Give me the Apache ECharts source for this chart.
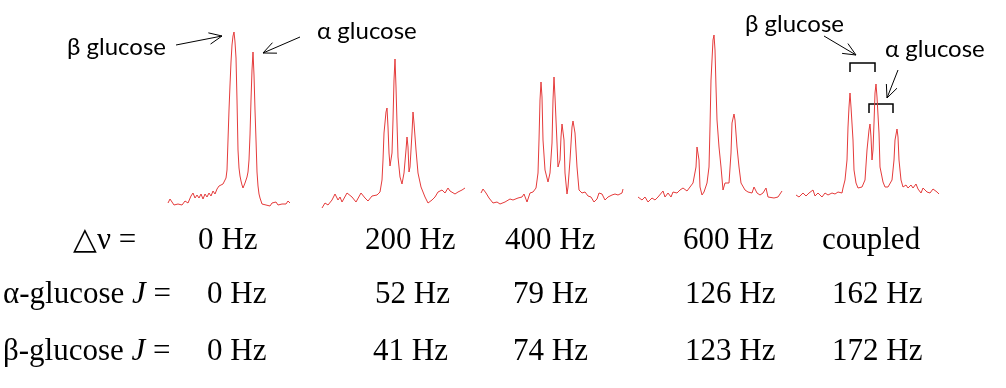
<!DOCTYPE html>
<html>
<head>
<meta charset="utf-8">
<script src="https://cdn.jsdelivr.net/npm/echarts@6/dist/echarts.min.js"></script>
<style>
  html, body { margin: 0; padding: 0; background: #fff; }
  #chart { width: 1006px; height: 388px; }
</style>
</head>
<body>
<div id="chart"></div>
<script>
// spectra, each point is [shift offset, intensity]
const spec0Hz = [
  [0, 9], [2, 13], [4, 11], [6, 7], [8, 9], [10, 8], [12, 10], [14, 7], [17, 11], [20, 9],
  [23, 16], [25, 19], [27, 14], [29, 17], [31, 14], [33, 18], [35, 13], [37, 18], [39, 15], [41, 19],
  [43, 16], [45, 21], [47, 18], [49, 23], [51, 26], [53, 24], [55, 28], [57, 30], [58, 34], [59, 42],
  [60, 72], [61, 102], [62, 127], [63, 150], [64, 167], [65, 176], [66, 180], [67, 170], [68, 154], [69, 112],
  [70, 62], [71, 44], [72, 36], [73, 31], [74, 27], [75, 24], [76, 26], [77, 29], [78, 32], [79, 35],
  [80, 40], [81, 52], [82, 77], [83, 112], [84, 142], [85, 160], [86, 137], [87, 102], [88, 72], [89, 40],
  [90, 26], [91, 18], [92, 14], [94, 8], [96, 10], [98, 7], [100, 9], [102, 6], [104, 9], [106, 7],
  [108, 10], [110, 7], [112, 9], [114, 8], [116, 10], [118, 8], [120, 11], [122, 9]
];
const spec200Hz = [
  [0, 4], [3, 9], [6, 7], [10, 12], [13, 18], [16, 12], [18, 15], [20, 10], [25, 19], [30, 15],
  [34, 10], [39, 19], [43, 14], [46, 11], [50, 16], [55, 17], [58, 20], [60, 32], [61, 52], [62, 79],
  [64, 100], [65, 104], [66, 85], [67, 59], [68, 46], [70, 59], [71, 92], [72, 132], [73, 153], [74, 125],
  [75, 89], [76, 55], [78, 35], [80, 28], [82, 39], [84, 62], [85, 75], [86, 65], [87, 40], [88, 45],
  [90, 79], [91, 100], [92, 89], [94, 62], [96, 39], [99, 25], [103, 15], [106, 9], [110, 12], [113, 15],
  [116, 20], [118, 18], [120, 22], [123, 19], [126, 24], [128, 21], [130, 23], [133, 18], [136, 20], [140, 22],
  [143, 24]
];
const spec400Hz = [
  [0, 19], [2, 23], [5, 19], [8, 14], [12, 9], [16, 10], [19, 8], [24, 10], [29, 13], [32, 12],
  [37, 14], [41, 15], [43, 18], [46, 10], [49, 19], [52, 20], [55, 24], [57, 39], [58, 72], [59, 112],
  [60, 130], [61, 115], [62, 72], [64, 42], [67, 30], [69, 39], [71, 69], [72, 112], [73, 135], [74, 115],
  [76, 69], [77, 45], [79, 52], [80, 75], [81, 88], [83, 72], [84, 39], [86, 18], [87, 25], [89, 52],
  [91, 85], [92, 91], [94, 79], [96, 45], [98, 22], [101, 19], [104, 20], [107, 16], [110, 15], [113, 10],
  [116, 13], [118, 19], [121, 18], [124, 12], [127, 15], [131, 17], [134, 18], [137, 17], [141, 19], [142, 23]
];
const spec600Hz = [
  [0, 15], [4, 12], [7, 15], [10, 10], [14, 14], [17, 12], [20, 15], [25, 21], [27, 15], [30, 19],
  [33, 15], [35, 20], [39, 19], [42, 22], [45, 24], [49, 21], [52, 25], [55, 29], [58, 45], [59, 65],
  [60, 67], [61, 52], [62, 25], [64, 17], [66, 20], [69, 29], [71, 45], [72, 85], [73, 132], [75, 172],
  [76, 177], [77, 162], [78, 125], [79, 92], [81, 65], [83, 45], [85, 22], [87, 29], [89, 30], [91, 29],
  [93, 59], [94, 89], [96, 98], [97, 92], [99, 65], [101, 45], [103, 29], [107, 22], [110, 20], [114, 19],
  [116, 25], [119, 19], [122, 17], [125, 19], [128, 24], [130, 15], [132, 17], [136, 14], [140, 15], [144, 21]
];
const specCoupled = [
  [0, 17], [3, 15], [7, 19], [10, 16], [13, 19], [17, 22], [19, 16], [22, 19], [26, 15], [29, 19],
  [32, 17], [36, 19], [39, 18], [42, 20], [46, 19], [47, 24], [49, 32], [51, 52], [52, 85], [53, 105],
  [54, 119], [55, 105], [57, 72], [58, 42], [60, 29], [62, 24], [66, 25], [69, 32], [71, 62], [73, 82],
  [74, 88], [75, 75], [76, 52], [77, 62], [78, 89], [79, 119], [80, 128], [81, 115], [83, 79], [84, 45],
  [87, 30], [89, 25], [92, 25], [96, 32], [98, 52], [99, 72], [101, 83], [102, 75], [103, 52], [105, 32],
  [107, 25], [110, 27], [112, 24], [115, 27], [117, 24], [120, 28], [122, 23], [125, 19], [127, 24], [131, 20],
  [134, 19], [137, 23], [141, 20], [143, 18]
];

// table text
const deltaNu = ['0 Hz', '200 Hz', '400 Hz', '600 Hz', 'coupled'];
const alphaJ = ['0 Hz', '52 Hz', '79 Hz', '126 Hz', '162 Hz'];
const betaJ = ['0 Hz', '41 Hz', '74 Hz', '123 Hz', '172 Hz'];

// layout
const spectra = [spec0Hz, spec200Hz, spec400Hz, spec600Hz, specCoupled];
const panelLeft = [168, 322, 481, 638, 796];
const panelWidth = [122, 143, 142, 144, 143];
const PLOT_TOP = 27;
const PLOT_H = 185;

const rowY = [241, 295, 352];
const colX = [
  [198, 365, 505, 683, 822],
  [207, 375, 513, 685, 832],
  [207, 373, 513, 685, 832]
];
const SERIF = '31px "Liberation Serif", "Times New Roman", serif';
const SANS = '24px Lato, "Open Sans", sans-serif';

function arrow(x1, y1, x2, y2) {
  const a = Math.atan2(y2 - y1, x2 - x1);
  const len = 14, spread = 0.42;
  return [
    { type: 'line', shape: { x1: x1, y1: y1, x2: x2, y2: y2 }, style: { stroke: '#000', lineWidth: 1 } },
    {
      type: 'polyline',
      shape: {
        points: [
          [x2 - len * Math.cos(a - spread), y2 - len * Math.sin(a - spread)],
          [x2, y2],
          [x2 - len * Math.cos(a + spread), y2 - len * Math.sin(a + spread)]
        ]
      },
      style: { stroke: '#000', fill: null, lineWidth: 1 }
    }
  ];
}

function bracket(x1, x2, yTop, yEnd) {
  return {
    type: 'polyline',
    shape: { points: [[x1, yEnd], [x1, yTop], [x2, yTop], [x2, yEnd]] },
    style: { stroke: '#000', fill: null, lineWidth: 1.5 }
  };
}

function label(text, x, y, font) {
  return { type: 'text', x: x, y: y, style: { text: text, font: font, fill: '#000', verticalAlign: 'middle' } };
}

const grids = [], xAxes = [], yAxes = [], series = [];
spectra.forEach(function (data, i) {
  grids.push({ left: panelLeft[i], top: PLOT_TOP, width: panelWidth[i], height: PLOT_H });
  xAxes.push({ type: 'value', gridIndex: i, min: 0, max: panelWidth[i], show: false });
  yAxes.push({ type: 'value', gridIndex: i, min: 0, max: PLOT_H, show: false });
  series.push({
    type: 'line',
    xAxisIndex: i,
    yAxisIndex: i,
    data: data,
    showSymbol: false,
    symbol: 'none',
    lineStyle: { color: '#e53b3b', width: 1 },
    silent: true
  });
});

const graphic = [];
// peak labels
graphic.push(label('β glucose', 67, 47, SANS));
graphic.push(label('α glucose', 317, 31, SANS));
graphic.push(label('β glucose', 745, 24, SANS));
graphic.push(label('α glucose', 885, 49, SANS));
graphic.push.apply(graphic, arrow(176, 45, 222, 36));
graphic.push.apply(graphic, arrow(300, 37, 263, 53));
graphic.push.apply(graphic, arrow(824, 36, 856, 55));
graphic.push.apply(graphic, arrow(898, 70, 887, 98));
graphic.push(bracket(850, 875, 63, 72));
graphic.push(bracket(869, 893, 104, 113));

// table rows
graphic.push(label('△ν =', 73, rowY[0], SERIF));
graphic.push({
  type: 'text', x: 3, y: rowY[1],
  style: {
    text: 'α-glucose {j|J} =', font: SERIF, fill: '#000', verticalAlign: 'middle',
    rich: { j: { fontStyle: 'italic', fontFamily: '"Liberation Serif", serif', fontSize: 31 } }
  }
});
graphic.push({
  type: 'text', x: 3, y: rowY[2],
  style: {
    text: 'β-glucose {j|J} =', font: SERIF, fill: '#000', verticalAlign: 'middle',
    rich: { j: { fontStyle: 'italic', fontFamily: '"Liberation Serif", serif', fontSize: 31 } }
  }
});
[deltaNu, alphaJ, betaJ].forEach(function (row, r) {
  row.forEach(function (txt, c) {
    graphic.push(label(txt, colX[r][c], rowY[r], SERIF));
  });
});

const chart = echarts.init(document.getElementById('chart'));
chart.setOption({
  backgroundColor: '#fff',
  animation: false,
  grid: grids,
  xAxis: xAxes,
  yAxis: yAxes,
  series: series,
  graphic: graphic
});

window.addEventListener('resize', function () {
  chart.resize();
});
</script>
</body>
</html>
